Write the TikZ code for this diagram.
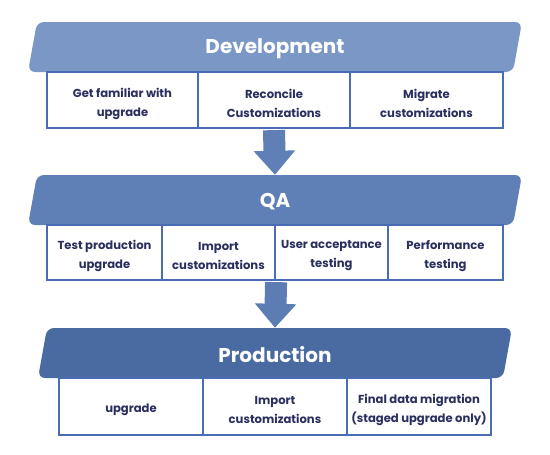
\documentclass[tikz,border=0pt]{standalone}
\usepackage{fontspec}
\setmainfont{Poppins}
\usetikzlibrary{arrows.meta}
\definecolor{devfill}{HTML}{7A97C5}
\definecolor{qafill}{HTML}{5F80B6}
\definecolor{prodfill}{HTML}{496BA2}
\definecolor{cellline}{HTML}{4A6CB4}
\definecolor{celltext}{HTML}{2A2F5E}
\tikzset{
  banner/.style    = {rounded corners=7pt},
  headtext/.style  = {text=white,minimum height=50pt,yshift=-1.5pt,font=\bfseries\fontsize{20}{22}\selectfont},
  cell/.style      = {draw=cellline,line width=2.2pt,fill=white},
  celllabel/.style = {text=celltext,align=center,inner sep=0pt,yshift=-3.5pt,
                      font=\bfseries\fontsize{11.6}{19}\selectfont},
  flowarr/.style   = {line width=22pt,-{Triangle[length=24pt,width=40pt]}}
}
\newcommand{\stagecell}[6]{%
  \node[cell,minimum width=#4,minimum height=#5,label={[celllabel]center:{#6}}] (#1) at (#2,#3) {};
}

\begin{document}
\begin{tikzpicture}[x=1pt,y=-1pt]
  \useasboundingbox (0,0) rectangle (550,455);
  % development
  \fill[banner,devfill] (37,22) -- (522,22) -- (513,72) -- (28,72) -- cycle;
  \node[headtext] (dev) at (275,47) {Development};
  \stagecell{dev1}{122.5}{100}{151pt}{56pt}{Get familiar with\\upgrade}
  \stagecell{dev2}{274}{100}{152pt}{56pt}{Reconcile\\Customizations}
  \stagecell{dev3}{426.5}{100}{153pt}{56pt}{Migrate\\customizations}
  % qa
  \fill[banner,qafill] (37,175) -- (522,175) -- (513,225) -- (28,225) -- cycle;
  \node[headtext] (qa) at (275,200) {QA};
  \stagecell{qa1}{104.5}{252.5}{115pt}{55pt}{Test production\\upgrade}
  \stagecell{qa2}{218.5}{252.5}{113pt}{55pt}{Import\\customizations}
  \stagecell{qa3}{331.5}{252.5}{113pt}{55pt}{User acceptance\\testing}
  \stagecell{qa4}{445.5}{252.5}{115pt}{55pt}{Performance\\testing}
  % production
  \fill[banner,prodfill] (47,328) -- (512,328) -- (503,378) -- (38,378) -- cycle;
  \node[headtext] (prod) at (275,353) {Production};
  \stagecell{prod1}{131}{406.5}{144pt}{57pt}{upgrade}
  \stagecell{prod2}{275}{406.5}{144pt}{57pt}{Import\\customizations}
  \stagecell{prod3}{419}{406.5}{144pt}{57pt}{Final data migration\\(staged upgrade only)}
  % arrows
  \draw[flowarr,qafill] ([yshift=-1pt]dev2.south) -- ([yshift=1.5pt]qa.north);
  \draw[flowarr,qafill!85!prodfill] ([yshift=-1pt]qa2.south east) -- ([yshift=1.5pt]prod.north);
\end{tikzpicture}
\end{document}
